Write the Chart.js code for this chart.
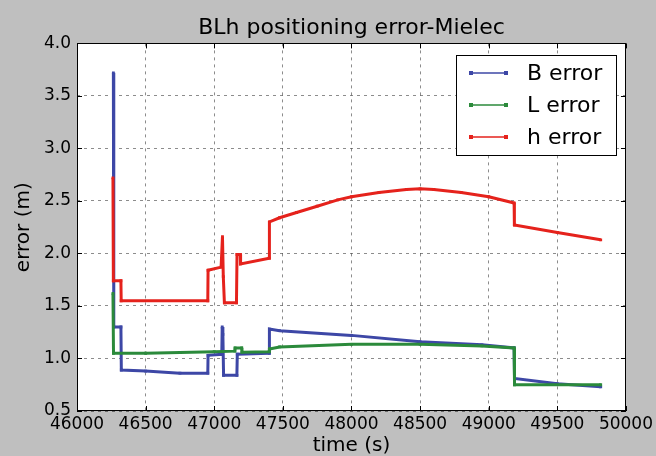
<!DOCTYPE html>
<html lang="en">
<head>
<meta charset="UTF-8" />
<title>BLh positioning error-Mielec</title>
<script src="https://cdn.jsdelivr.net/npm/chart.js"></script>
<style>
  html, body { margin: 0; padding: 0; background: #bfbfbf; }
  #wrap { width: 656px; height: 456px; }
</style>
</head>
<body>
<div id="wrap"><canvas id="errChart" width="656" height="456"></canvas></div>
<script>
// values
const bTime = [46265, 46268, 46320, 46323, 46500, 46750, 46953, 46955, 47055, 47058, 47063, 47068, 47165, 47168, 47400, 47402, 47476, 48000, 48500, 48950, 49185, 49188, 49500, 49816];
const bErr  = [3.72, 1.30, 1.30, 0.89, 0.88, 0.86, 0.86, 1.03, 1.04, 1.30, 1.23, 0.84, 0.84, 1.04, 1.05, 1.28, 1.265, 1.22, 1.16, 1.13, 1.10, 0.81, 0.76, 0.73];

const lTime = [46262, 46266, 46500, 47000, 47150, 47152, 47200, 47202, 47400, 47402, 47476, 48000, 48500, 48950, 49185, 49188, 49816];
const lErr  = [1.62, 1.05, 1.05, 1.065, 1.07, 1.10, 1.10, 1.06, 1.065, 1.09, 1.11, 1.135, 1.135, 1.12, 1.10, 0.75, 0.75];

const hTime = [46262, 46265, 46320, 46322, 46953, 46955, 47050, 47060, 47066, 47074, 47162, 47166, 47190, 47192, 47400, 47402, 47476, 47600, 47750, 47900, 48000, 48200, 48400, 48500, 48600, 48800, 49000, 49185, 49187, 49500, 49816];
const hErr  = [2.72, 1.74, 1.74, 1.55, 1.55, 1.84, 1.87, 2.16, 1.78, 1.53, 1.53, 1.99, 1.99, 1.90, 1.955, 2.30, 2.34, 2.39, 2.45, 2.51, 2.54, 2.58, 2.61, 2.615, 2.61, 2.58, 2.54, 2.48, 2.27, 2.20, 2.13];

const seriesNames = ["B error", "L error", "h error"];
const seriesColors = ["#3d47a6", "#2b8a3b", "#e5221c"];

const xTicks = [46000, 46500, 47000, 47500, 48000, 48500, 49000, 49500, 50000];
const yTicks = [0.5, 1.0, 1.5, 2.0, 2.5, 3.0, 3.5, 4.0];

const FONT = "'DejaVu Sans', sans-serif";

function toPoints(ts, vs) {
  return ts.map((t, i) => ({ x: t, y: vs[i] }));
}

function makeSet(i, ts, vs) {
  return {
    label: seriesNames[i],
    data: toPoints(ts, vs),
    order: 3 - i, // later series drawn on top, like matplotlib
    borderColor: seriesColors[i],
    backgroundColor: seriesColors[i],
    borderWidth: 3,
    pointStyle: "rect",
    pointRadius: 2,
    pointBorderWidth: 0,
    pointBackgroundColor: seriesColors[i],
    tension: 0,
  };
}

// white plot area, frame, inward ticks and the boxed legend
const framePlugin = {
  id: "framePlugin",
  beforeDraw(chart) {
    const { ctx, chartArea: a } = chart;
    ctx.save();
    ctx.fillStyle = "#ffffff";
    ctx.fillRect(a.left, a.top, a.width, a.height);
    ctx.restore();
  },
  afterDraw(chart) {
    const { ctx, chartArea: a, scales } = chart;
    ctx.save();
    ctx.strokeStyle = "#000";
    ctx.lineWidth = 1;
    ctx.beginPath();
    xTicks.forEach((v) => {
      const px = Math.round(scales.x.getPixelForValue(v)) + 0.5;
      ctx.moveTo(px, a.bottom);
      ctx.lineTo(px, a.bottom - 5);
      ctx.moveTo(px, a.top);
      ctx.lineTo(px, a.top + 5);
    });
    yTicks.forEach((v) => {
      const py = Math.round(scales.y.getPixelForValue(v)) + 0.5;
      ctx.moveTo(a.left, py);
      ctx.lineTo(a.left + 5, py);
      ctx.moveTo(a.right, py);
      ctx.lineTo(a.right - 5, py);
    });
    ctx.stroke();
    ctx.strokeRect(Math.round(a.left) + 0.5, Math.round(a.top) + 0.5, Math.round(a.width) - 1, Math.round(a.height) - 1);

    // legend (entries in data order)
    const bw = 160, bh = 100;
    const bx = Math.round(a.right) - 10 - bw;
    const by = Math.round(a.top) + 12;
    ctx.fillStyle = "#fff";
    ctx.fillRect(bx, by, bw, bh);
    ctx.strokeStyle = "#000";
    ctx.strokeRect(bx + 0.5, by + 0.5, bw, bh);
    ctx.font = "22px " + FONT;
    ctx.textBaseline = "middle";
    chart.data.datasets.forEach((ds, i) => {
      const yy = by + 18 + i * 32;
      ctx.strokeStyle = ds.borderColor;
      ctx.lineWidth = 1.5;
      ctx.beginPath();
      ctx.moveTo(bx + 15, yy);
      ctx.lineTo(bx + 50, yy);
      ctx.stroke();
      ctx.fillStyle = ds.borderColor;
      ctx.fillRect(bx + 13, yy - 2, 4, 4);
      ctx.fillRect(bx + 48, yy - 2, 4, 4);
      ctx.fillStyle = "#000";
      ctx.fillText(ds.label, bx + 71, yy + 1);
    });
    ctx.restore();
  },
};

new Chart(document.getElementById("errChart"), {
  type: "line",
  data: {
    datasets: [
      makeSet(0, bTime, bErr),
      makeSet(1, lTime, lErr),
      makeSet(2, hTime, hErr),
    ],
  },
  options: {
    responsive: false,
    animation: false,
    events: [],
    layout: { padding: { left: 0, right: 29, top: 0, bottom: 0 } },
    plugins: {
      legend: { display: false },
      tooltip: { enabled: false },
      title: {
        display: true,
        fullSize: false,
        text: "BLh positioning error-Mielec",
        color: "#000",
        font: { family: FONT, size: 22, weight: "normal" },
        padding: { top: 15, bottom: 2 },
      },
    },
    scales: {
      x: {
        type: "linear",
        min: 46000,
        max: 50000,
        afterBuildTicks: (s) => { s.ticks = xTicks.map((v) => ({ value: v })); },
        afterFit: (s) => { s.height = 45; },
        ticks: {
          color: "#000",
          padding: 3,
          maxRotation: 0,
          autoSkip: false,
          font: { family: FONT, size: 17 },
          callback: (v) => String(v),
        },
        grid: { color: "rgba(0,0,0,0.45)", lineWidth: 1, drawTicks: false },
        border: { display: false, dash: [3, 4] },
        title: {
          display: true,
          text: "time (s)",
          color: "#000",
          font: { family: FONT, size: 20, lineHeight: 1 },
          padding: { top: 0, bottom: 0 },
        },
      },
      y: {
        min: 0.5,
        max: 4.0,
        afterBuildTicks: (s) => { s.ticks = yTicks.map((v) => ({ value: v })); },
        afterFit: (s) => { s.width = 77; },
        ticks: {
          color: "#000",
          padding: 6,
          autoSkip: false,
          font: { family: FONT, size: 17 },
          callback: (v) => Number(v).toFixed(1),
        },
        grid: { color: "rgba(0,0,0,0.45)", lineWidth: 1, drawTicks: false },
        border: { display: false, dash: [3, 4] },
        title: {
          display: true,
          text: "error (m)",
          color: "#000",
          font: { family: FONT, size: 20, lineHeight: 1 },
          padding: { top: 14, bottom: 0 },
        },
      },
    },
  },
  plugins: [framePlugin],
});
</script>
</body>
</html>
